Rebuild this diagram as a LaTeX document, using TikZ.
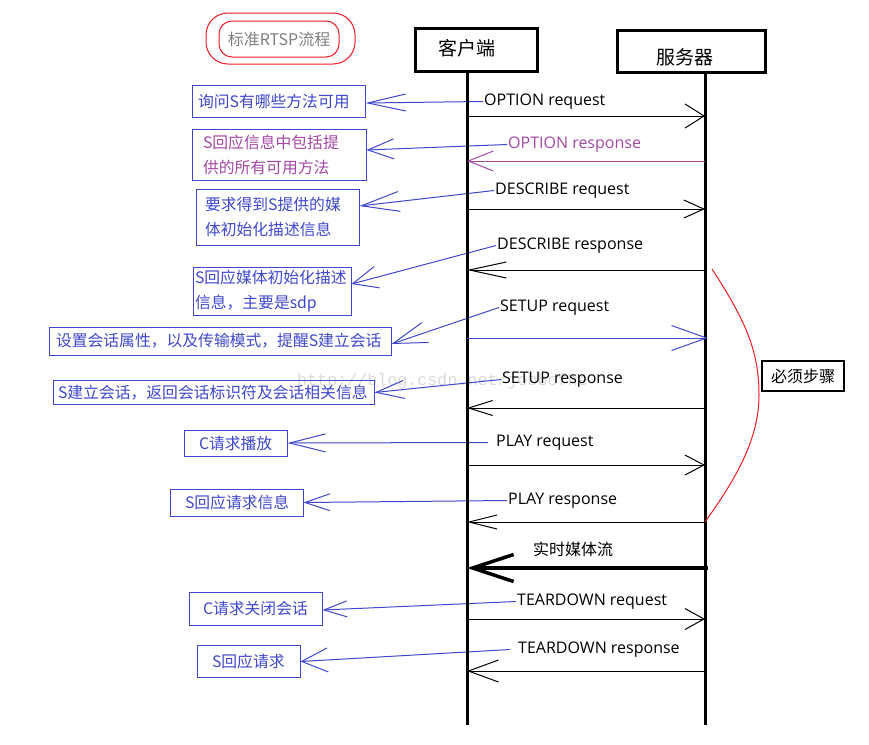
\documentclass[tikz,border=0pt]{standalone}
\usepackage{fontspec}
\setmainfont{Open Sans}
\newfontfamily\cjk{Noto Sans CJK SC}
\newfontfamily\wmfont{Liberation Mono}
\usetikzlibrary{arrows.meta,calc}
\definecolor{pblue}{RGB}{63,72,204}
\definecolor{ppurple}{RGB}{163,73,164}
\definecolor{pred}{RGB}{237,28,36}
\definecolor{pgray}{RGB}{127,127,127}
\begin{document}
\begin{tikzpicture}[x=1pt,y=-1pt,
  lifebox/.style={draw, line width=3pt, inner sep=0},
  boxtext/.style={inner sep=0, font=\cjk\fontsize{19}{19}\selectfont},
  lifeline/.style={line width=3pt},
  note/.style={draw=pblue, line width=1pt, text=pblue, inner ysep=0, align=left,
    font=\cjk\fontsize{15.8}{25}\selectfont},
  lbl/.style={font=\fontsize{16}{16}\selectfont, inner sep=0, anchor=west, yshift=-2.5pt},
  msgline/.style={line width=1pt},
  barb/.style 2 args={-{Straight Barb[length=#1,width=#2]}},
  ptr/.style={draw=pblue, line width=1pt},
]
\fill[white] (0,0) rectangle (869,744);
\useasboundingbox (0,0) rectangle (869,744);

% watermark
\node[font=\wmfont\fontsize{16.7}{16.7}\selectfont, text=black!14, anchor=west, inner sep=0]
  (wm) at (297,381) {http://blog.csdn.net/jobbofhe};

% title
\node[draw=pred, line width=1pt, rounded corners=22, minimum width=149, minimum height=51] (titleouter) at (280.5,38.5) {};
\node[draw=pred, line width=1pt, rounded corners=13, minimum width=120, minimum height=36,
  text=pgray, font=\cjk\fontsize{16}{16}\selectfont] (title) at (279,39) {标准RTSP流程};

% participants
\node[lifebox, minimum width=122, minimum height=43] (client) at (476,49.5) {};
\node[boxtext] (clientlbl) at (466.5,48) {客户端};
\node[lifebox, minimum width=148, minimum height=42] (server) at (691,51) {};
\node[boxtext] (serverlbl) at (685,57) {服务器};

\coordinate (ctop) at (467,71);
\coordinate (cbot) at (467,725);
\coordinate (stop) at (705,72);
\coordinate (sbot) at (705,725);

% notes
\node[note, text width=161, inner xsep=6, minimum height=32] (b1) at (278.5,101) {询问S有哪些方法可用};
\node[note, text=ppurple, text width=152, inner xsep=11, minimum height=51] (b2) at (279,154.5) {S回应信息中包括提\\供的所有可用方法};
\node[note, text width=145, inner xsep=9, minimum height=56] (b3) at (277.5,217) {要求得到S提供的媒\\体初始化描述信息};
\node[note, text width=154, inner xsep=2, minimum height=48] (b4) at (272,291) {S回应媒体初始化描述\\信息，主要是sdp};
\node[note, text width=328, inner xsep=7, minimum height=28] (b5) at (220,341) {设置会话属性，以及传输模式，提醒S建立会话};
\node[note, text width=311, inner xsep=5, minimum height=24] (b6) at (213.5,392.5) {S建立会话，返回会话标识符及会话相关信息};
\node[note, text width=73, inner xsep=15, minimum height=26] (b7) at (235.5,443) {C请求播放};
\node[note, text width=103, inner xsep=15, minimum height=27] (b8) at (236.5,502.5) {S回应请求信息};
\node[note, text width=105, inner xsep=14, minimum height=33] (b9) at (255.5,608.5) {C请求关闭会话};
\node[note, text width=73, inner xsep=15, minimum height=32] (b10) at (248.5,661.5) {S回应请求};

% message labels
\node[lbl] (l1) at (484,99) {OPTION request};
\node[lbl, text=ppurple] (l2) at (508,142) {OPTION response};
\node[lbl] (l3) at (495,188) {DESCRIBE request};
\node[lbl] (l4) at (497,243) {DESCRIBE response};
\node[lbl] (l5) at (500,305) {SETUP request};
\node[lbl] (l6) at (502,377) {SETUP response};
\node[lbl] (l7) at (496,440) {PLAY request};
\node[lbl] (l8) at (508,498) {PLAY response};
\node[lbl, yshift=2.5pt, font=\cjk\fontsize{16}{16}\selectfont] (l9) at (533,549) {实时媒体流};
\node[lbl] (l10) at (517,599) {TEARDOWN request};
\node[lbl] (l11) at (518,647) {TEARDOWN response};

% pointers from labels to notes
\draw[ptr, barb={38}{17}] ([xshift=-1]l1.west) -- ([yshift=-2]b1.east);
\draw[ptr, barb={26}{20}] ([xshift=-1]l2.west) -- ([yshift=4.5]b2.east);
\draw[ptr, barb={38}{20}] ([xshift=-1]l3.west) -- ([yshift=11]b3.east);
\draw[ptr, barb={25}{22}] ([xshift=-1]l4.west) -- ([yshift=7]b4.east);
\draw[ptr, barb={34}{21}] ([xshift=-1]l5.west) -- ([yshift=-3]b5.east);
\draw[ptr, barb={28}{18}] ([xshift=-1]l6.west) -- (b6.east);
\draw[ptr, barb={36}{18}] ([xshift=-8]l7.west) -- (b7.east);
\draw[ptr, barb={25}{17}] ([xshift=-1]l8.west) -- (b8.east);
\draw[ptr, barb={23}{16}] ([xshift=-1]l10.west) -- ([yshift=-1.5]b9.east);
\draw[ptr, barb={26}{24}] ([xshift=-8]l11.west) -- (b10.east);

% lifelines
\draw[lifeline] (ctop) -- (cbot);
\draw[lifeline] (stop) -- (sbot);

% messages
\coordinate (m1) at (0,116);
\coordinate (m2) at (0,161);
\coordinate (m3) at (0,209);
\coordinate (m4) at (0,270);
\coordinate (m5) at (0,338);
\coordinate (m6) at (0,408);
\coordinate (m7) at (0,465);
\coordinate (m8) at (0,522);
\coordinate (m9) at (0,568);
\coordinate (m10) at (0,619);
\coordinate (m11) at (0,671);
\draw[msgline, barb={19}{24}] (ctop |- m1) -- (stop |- m1);
\draw[msgline, draw=ppurple, barb={25}{20}] (stop |- m2) -- (ctop |- m2);
\draw[msgline, barb={20}{18}] (ctop |- m3) -- (stop |- m3);
\draw[msgline, barb={37}{16}] (stop |- m4) -- (ctop |- m4);
\draw[msgline, draw=pblue, barb={35}{25}] (ctop |- m5) -- ([xshift=3]stop |- m5);
\draw[msgline, barb={24}{15}] (stop |- m6) -- (ctop |- m6);
\draw[msgline, barb={19}{20}] (ctop |- m7) -- (stop |- m7);
\draw[msgline, barb={28}{14}] (stop |- m8) -- (ctop |- m8);
\draw[line width=3.5pt, barb={41}{27}] ([xshift=3]stop |- m9) -- (ctop |- m9);
\draw[msgline, barb={19}{21}] (ctop |- m10) -- (stop |- m10);
\draw[msgline, barb={30}{22}] (stop |- m11) -- (ctop |- m11);

% required steps bracket
\coordinate (rtop) at (712,269);
\coordinate (rbot) at (705,522);
\draw[pred, line width=1pt] (rtop) .. controls (745,320) and (759,350) .. (759,395)
  .. controls (759,440) and (735,480) .. (rbot);
\node[draw, line width=1.2pt, minimum width=82, minimum height=30, inner sep=0,
  font=\cjk\fontsize{16}{16}\selectfont] (must) at (803,376) {必须步骤};
\end{tikzpicture}
\end{document}
